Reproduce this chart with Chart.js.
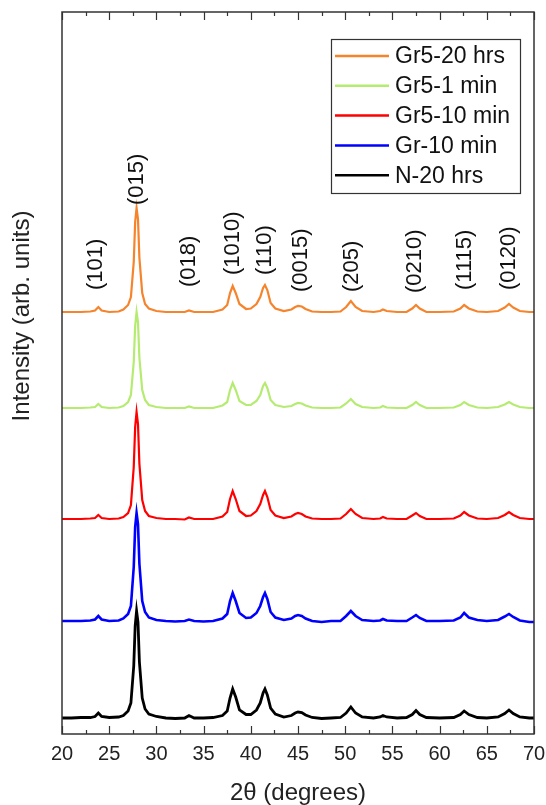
<!DOCTYPE html>
<html><head><meta charset="utf-8">
<script src="https://cdn.jsdelivr.net/npm/chart.js@4/dist/chart.umd.min.js"></script>
<style>html,body{margin:0;padding:0;background:#fff}</style>
</head><body>
<canvas id="c" width="546" height="805"></canvas>
<script>
// 2θ sampling positions (degrees)
const twoTheta = [20,21,22,23,23.5,23.85,24.2,25,26,26.5,27,27.3,27.6,27.75,27.9,28.05,28.2,28.5,28.8,29.2,30,31,32,33,33.45,34,35,36,37,37.5,37.8,38.08,38.4,38.8,39.5,40,40.6,41.0,41.3,41.5,41.75,42.1,42.6,43.5,44.3,44.7,45.0,45.4,45.8,46.5,47.5,48.5,49.5,50.1,50.6,51.1,51.8,53,53.7,54.0,54.4,55.5,56.5,57.1,57.5,57.9,58.6,60,61.5,62.2,62.6,63.1,64,65,66.2,66.9,67.35,67.8,68.5,69.5,70];

// Intensities above each pattern's own baseline (arb. units)
const n20hrs   = [0,0,0.5,0.5,1.5,5,1.5,0.5,1,2.5, 7,15,52,92,107,96,56,20,9,4, 1.5,0,-0.5,0,2.5,0,0,0.5,2.5,7, 20,29,21,8,3.5,3.5,8,15,25,29, 23,10,4,1,2.5,5,6,5.5,3,0.5, -0.5,0,0.5,5,11,5,1,0,1,2.5, 1,0,0.5,3.5,7.5,3.5,0.5,0,0.5,3.5, 7,3.5,0.5,0,1,4.5,8,4.5,1,0, 0];
const gr10min  = [0,0,0,0.5,1.5,5,1.5,0,0.5,2.5, 7,15,54,94,108,97,57,20,9,3.5, 1,0,-0.5,0,1.5,0,-0.5,0,2.5,7, 20,28,20,8,3,3.5,8,15,24,28, 22,9,3.5,1,2.5,5,6,5,2.5,0, -1,0,0,5,10,5,1,0,0.5,2, 0.5,0,0,3.5,6,3,0,0,0.5,3.5, 8,3.5,1,0,1,4.5,7,4,0.5,-1, -1];
const gr5_10min= [0,0,0,0.5,1,4,1,0,0.5,2, 6,14,52,92,107,95,55,19,8,3, 1,0,0,-0.5,1.5,0,0,0,2.5,7, 20,28,20,8,3,3.5,8,15,24,28, 22,9,3.5,1,2.5,5,6,5,2.5,0.5, 0,0,0.5,5,10,5,1,0,0.5,2, 0.5,0,0,3.5,6,3,0,0,0.5,3.5, 7,3.5,0.5,0,1,4,7,4,1,0, 0];
const gr5_1min = [0,0,0,0.5,1,4,1,0,0.5,2, 6,13,46,82,96,86,50,18,8,3, 1,0,0,0,1.5,0,0,0,2.5,6, 18,25,18,7,3,3,7,13,22,25, 20,8,3,1,2,4,5,4.5,2.5,0.5, 0,0,0.5,4.5,9,4,1,0,0.5,2, 0.5,0,0,3,6,3,0,0,0.5,3, 6,3,0.5,0,1,3.5,6,3.5,1,0, 0];
const gr5_20hrs= [0,0,0,0.5,1.5,5,1.5,0,0.5,2.5, 7,15,50,90,104,93,54,19,8,3.5, 1,0,0,0,1.5,0,0,0,2.5,7, 19,26,19,8,3,3.5,8,15,24,27, 22,9,3.5,1,2.5,5,6,5.5,3,0.5, 0,0,0.5,5,11,5,1,0,1,2.5, 1,0,0,3.5,7,3.5,0,0,0.5,3.5, 7,3.5,0.5,0,1,4.5,8,4.5,1,0, 0];

// Stacking offsets (arb. units) and series meta
const seriesNames   = ['Gr5-20 hrs','Gr5-1 min','Gr5-10 min','Gr-10 min','N-20 hrs'];
const seriesValues  = [gr5_20hrs, gr5_1min, gr5_10min, gr10min, n20hrs];
const seriesOffsets = [422, 326, 215, 113, 16];
const seriesColors  = ['#F5842C','#B6EB72','#FF0000','#0000FF','#000000'];
const seriesWidths  = [2.2, 2.2, 2.2, 2.6, 2.8];

// Reflection labels: text, 2θ position, label base height (arb. units)
const peakLabels = ['(101)','(015)','(018)','(1010)','(110)','(0015)','(205)','(0210)','(1115)','(0120)'];
const peakPos    = [23.6, 27.9, 33.4, 38.1, 41.5, 45.3, 50.7, 57.4, 62.7, 67.35];
const peakBase   = [444, 529, 447, 459, 459, 442, 442, 441, 444, 444];

const xTickMarks = [20,22.5,25,27.5,30,32.5,35,37.5,40,42.5,45,47.5,50,52.5,55,57.5,60,62.5,65,67.5,70];

const FONT = "'Liberation Sans', Arial, sans-serif";

const datasets = seriesNames.map((name, i) => ({
  label: name,
  data: twoTheta.map((t, k) => ({x: t, y: seriesValues[i][k] + seriesOffsets[i]})),
  borderColor: seriesColors[i],
  borderWidth: seriesWidths[i],
  pointRadius: 0,
  tension: 0,
  fill: false
}));

const decor = {
  id: 'decor',
  afterDraw(chart) {
    const ctx = chart.ctx, a = chart.chartArea;
    const xs = chart.scales.x, ys = chart.scales.y;
    ctx.save();
    // frame
    ctx.strokeStyle = '#333'; ctx.lineWidth = 1.5;
    ctx.strokeRect(a.left, a.top, a.right - a.left, a.bottom - a.top);
    // inward ticks (bottom & top)
    ctx.lineWidth = 1.2;
    xTickMarks.forEach(v => {
      const px = Math.round(xs.getPixelForValue(v)) + 0.5;
      const len = (v % 5 === 0) ? 8 : 4;
      ctx.beginPath();
      ctx.moveTo(px, a.bottom); ctx.lineTo(px, a.bottom - len);
      ctx.moveTo(px, a.top); ctx.lineTo(px, a.top + len);
      ctx.stroke();
    });
    // peak labels
    ctx.fillStyle = '#111';
    ctx.font = '22px ' + FONT;
    ctx.textAlign = 'left'; ctx.textBaseline = 'middle';
    peakLabels.forEach((t, i) => {
      const px = xs.getPixelForValue(peakPos[i]);
      const py = ys.getPixelForValue(peakBase[i]);
      ctx.save(); ctx.translate(px, py); ctx.rotate(-Math.PI / 2);
      ctx.fillText(t, 0, 0); ctx.restore();
    });
    // axis titles
    ctx.fillStyle = '#222';
    ctx.font = '24px ' + FONT;
    ctx.textAlign = 'center';
    ctx.fillText('2θ (degrees)', (a.left + a.right) / 2, 793);
    ctx.save(); ctx.translate(22, 316); ctx.rotate(-Math.PI / 2);
    ctx.fillText('Intensity (arb. units)', 0, 0); ctx.restore();
    // legend
    const lx = 331, ly = 39, lw = 189, lh = 154;
    ctx.fillStyle = '#fff'; ctx.fillRect(lx, ly, lw, lh);
    ctx.strokeStyle = '#333'; ctx.lineWidth = 1.2;
    ctx.strokeRect(lx + 0.5, ly + 0.5, lw, lh);
    ctx.font = '23px ' + FONT; ctx.textAlign = 'left'; ctx.textBaseline = 'middle';
    seriesNames.forEach((n, i) => {
      const y = 56 + i * 29.8;
      ctx.strokeStyle = seriesColors[i]; ctx.lineWidth = 2.5;
      ctx.beginPath(); ctx.moveTo(335, y); ctx.lineTo(389, y); ctx.stroke();
      ctx.fillStyle = '#111'; ctx.fillText(n, 395, y + 1);
    });
    ctx.restore();
  }
};

new Chart(document.getElementById('c'), {
  type: 'line',
  data: { datasets },
  options: {
    responsive: false, animation: false, devicePixelRatio: 1,
    layout: { padding: { left: 62, right: 12, top: 12, bottom: 31 } },
    plugins: { legend: { display: false }, tooltip: { enabled: false } },
    scales: {
      x: { type: 'linear', min: 20, max: 70,
           afterFit(scale) { scale.paddingLeft = 0; scale.paddingRight = 0; },
           ticks: { stepSize: 5, autoSkip: false, maxRotation: 0, padding: 8, color: '#222',
                    font: { family: FONT, size: 20 } },
           grid: { display: false, drawTicks: false }, border: { display: false } },
      y: { display: false, min: 0, max: 722 }
    }
  },
  plugins: [decor]
});
</script>
</body></html>
